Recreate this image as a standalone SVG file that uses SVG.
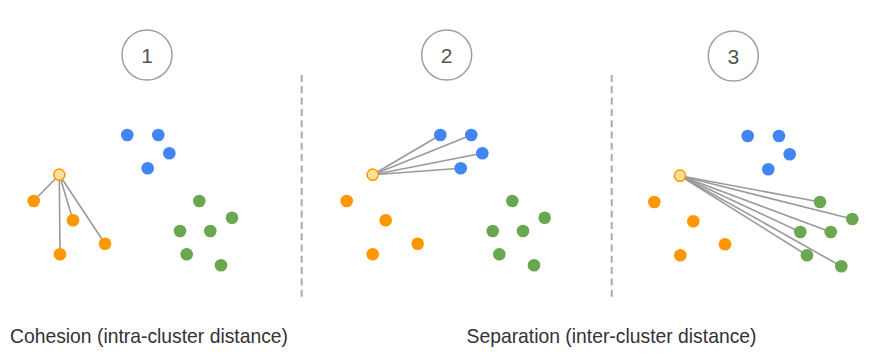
<svg xmlns="http://www.w3.org/2000/svg" width="872" height="364" viewBox="0 0 872 364">
<style>
.o{fill:#FF9800}
.b{fill:#4285F4}
.g{fill:#6AA84F}
.h{fill:#FFE199;stroke:#FF9800;stroke-width:1.5}
.num{fill:none;stroke:#9E9E9E;stroke-width:1.5}
.nt{font-family:"Liberation Sans",Arial,sans-serif;font-size:21px;fill:#555;text-anchor:middle}
.lbl{font-family:"Liberation Sans",Arial,sans-serif;font-size:21px;fill:#333}
.ln{stroke:#9A9A9A;stroke-width:1.6;fill:none}
.dash{stroke:#AAAAAA;stroke-width:2;stroke-dasharray:7 4.3;fill:none}
</style>
<rect width="872" height="364" fill="#fff"/>
<g id="dividers">
<line class="dash" x1="301.7" y1="75" x2="301.7" y2="297"/>
<line class="dash" x1="611.7" y1="75" x2="611.7" y2="297"/>
</g>
<g id="connectors">
<line class="ln" x1="59.3" y1="174.7" x2="33.7" y2="201"/>
<line class="ln" x1="59.3" y1="174.7" x2="73" y2="220.3"/>
<line class="ln" x1="59.3" y1="174.7" x2="105" y2="243.7"/>
<line class="ln" x1="59.3" y1="174.7" x2="60" y2="254.3"/>
<line class="ln" x1="372.7" y1="174.7" x2="440.3" y2="135"/>
<line class="ln" x1="372.7" y1="174.7" x2="471.3" y2="135"/>
<line class="ln" x1="372.7" y1="174.7" x2="482.3" y2="153.3"/>
<line class="ln" x1="372.7" y1="174.7" x2="460.7" y2="168.3"/>
<line class="ln" x1="680" y1="175.7" x2="820" y2="202"/>
<line class="ln" x1="680" y1="175.7" x2="852.3" y2="219"/>
<line class="ln" x1="680" y1="175.7" x2="800.3" y2="232"/>
<line class="ln" x1="680" y1="175.7" x2="830.7" y2="232"/>
<line class="ln" x1="680" y1="175.7" x2="807" y2="255.3"/>
<line class="ln" x1="680" y1="175.7" x2="841.3" y2="266.3"/>
</g>
<g id="step1">
<circle class="num" cx="147" cy="55" r="25"/>
<text class="nt" x="147" y="62.5">1</text>
</g>
<g id="step2">
<circle class="num" cx="446.7" cy="55" r="25"/>
<text class="nt" x="446.7" y="62.5">2</text>
</g>
<g id="step3">
<circle class="num" cx="733.3" cy="56" r="25"/>
<text class="nt" x="733.3" y="63.5">3</text>
</g>
<g id="panel1">
<circle class="b" cx="127.3" cy="135" r="6.3"/>
<circle class="b" cx="158.3" cy="135" r="6.3"/>
<circle class="b" cx="169.3" cy="153.3" r="6.3"/>
<circle class="b" cx="147.7" cy="168.3" r="6.3"/>
<circle class="o" cx="33.7" cy="201" r="6.3"/>
<circle class="o" cx="73" cy="220.3" r="6.3"/>
<circle class="o" cx="105" cy="243.7" r="6.3"/>
<circle class="o" cx="60" cy="254.3" r="6.3"/>
<circle class="g" cx="199.3" cy="201" r="6.3"/>
<circle class="g" cx="232" cy="217.7" r="6.3"/>
<circle class="g" cx="180" cy="231" r="6.3"/>
<circle class="g" cx="210.3" cy="231" r="6.3"/>
<circle class="g" cx="186.7" cy="254.3" r="6.3"/>
<circle class="g" cx="221" cy="265.3" r="6.3"/>
<circle class="h" cx="59.3" cy="174.7" r="5.6"/>
</g>
<g id="panel2">
<circle class="b" cx="440.3" cy="135" r="6.3"/>
<circle class="b" cx="471.3" cy="135" r="6.3"/>
<circle class="b" cx="482.3" cy="153.3" r="6.3"/>
<circle class="b" cx="460.7" cy="168.3" r="6.3"/>
<circle class="o" cx="346.7" cy="201" r="6.3"/>
<circle class="o" cx="385.7" cy="220.3" r="6.3"/>
<circle class="o" cx="417.7" cy="243.7" r="6.3"/>
<circle class="o" cx="372.7" cy="254.3" r="6.3"/>
<circle class="g" cx="512.3" cy="201" r="6.3"/>
<circle class="g" cx="544.7" cy="217.7" r="6.3"/>
<circle class="g" cx="492.7" cy="231" r="6.3"/>
<circle class="g" cx="523" cy="231" r="6.3"/>
<circle class="g" cx="499.3" cy="254.3" r="6.3"/>
<circle class="g" cx="534" cy="265.3" r="6.3"/>
<circle class="h" cx="372.7" cy="174.7" r="5.6"/>
</g>
<g id="panel3">
<circle class="b" cx="747.7" cy="136" r="6.3"/>
<circle class="b" cx="779" cy="136" r="6.3"/>
<circle class="b" cx="789.7" cy="154.3" r="6.3"/>
<circle class="b" cx="768.3" cy="169.3" r="6.3"/>
<circle class="o" cx="654.3" cy="202" r="6.3"/>
<circle class="o" cx="693.3" cy="221.3" r="6.3"/>
<circle class="o" cx="725" cy="244.3" r="6.3"/>
<circle class="o" cx="680.3" cy="255.3" r="6.3"/>
<circle class="g" cx="820" cy="202" r="6.3"/>
<circle class="g" cx="852.3" cy="219" r="6.3"/>
<circle class="g" cx="800.3" cy="232" r="6.3"/>
<circle class="g" cx="830.7" cy="232" r="6.3"/>
<circle class="g" cx="807" cy="255.3" r="6.3"/>
<circle class="g" cx="841.3" cy="266.3" r="6.3"/>
<circle class="h" cx="680" cy="175.7" r="5.6"/>
</g>
<g id="labels">
<text class="lbl" x="10" y="342.5" textLength="278" lengthAdjust="spacingAndGlyphs">Cohesion (intra-cluster distance)</text>
<text class="lbl" x="466.5" y="342.5" textLength="290" lengthAdjust="spacingAndGlyphs">Separation (inter-cluster distance)</text>
</g>
</svg>
